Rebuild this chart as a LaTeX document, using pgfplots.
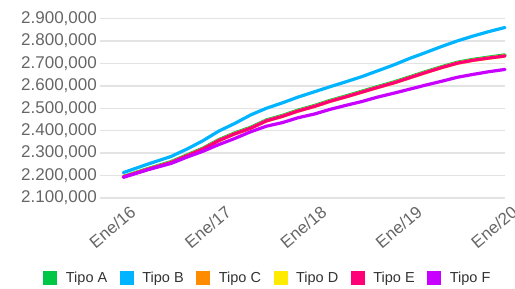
\documentclass[border=0pt]{standalone}
\usepackage{pgfplots}
\pgfplotsset{compat=1.18}
\usepackage{pgfplotstable}
\usepackage{fontspec}
\setmainfont{Liberation Sans}
\definecolor{cA}{HTML}{00C846}
\definecolor{cB}{HTML}{00B4FF}
\definecolor{cC}{HTML}{FF8C00}
\definecolor{cD}{HTML}{FFEB00}
\definecolor{cE}{HTML}{FF0078}
\definecolor{cF}{HTML}{C800FF}
\definecolor{gridc}{HTML}{E3E3E3}
\definecolor{tickc}{HTML}{666666}
\definecolor{legc}{HTML}{333333}
% month (0 = Ene/16), value in thousands
\pgfplotstableread{
m v
0 2196
3 2230
6 2262
8 2292
10 2322
12 2360
14 2390
16 2415
18 2448
20 2468
22 2492
24 2512
26 2535
28 2555
30 2576
32 2597
34 2617
36 2640
38 2663
40 2685
42 2705
44 2718
46 2728
48 2738
}\tipoA
\pgfplotstableread{
m v
0 2213
3 2250
6 2285
8 2318
10 2355
12 2398
14 2432
16 2470
18 2500
20 2524
22 2550
24 2573
26 2596
28 2618
30 2641
32 2667
34 2693
36 2722
38 2748
40 2775
42 2800
44 2822
46 2842
48 2860
}\tipoB
\pgfplotstableread{
m v
0 2194
3 2227
6 2258
8 2288
10 2318
12 2356
14 2386
16 2411
18 2444
20 2464
22 2488
24 2508
26 2531
28 2551
30 2572
32 2593
34 2613
36 2636
38 2659
40 2681
42 2701
44 2714
46 2724
48 2733
}\tipoC
\pgfplotstableread{
m v
0 2194
3 2227
6 2258
8 2288
10 2318
12 2356
14 2386
16 2411
18 2444
20 2464
22 2488
24 2508
26 2531
28 2551
30 2572
32 2593
34 2613
36 2636
38 2659
40 2681
42 2701
44 2714
46 2724
48 2733
}\tipoD
\pgfplotstableread{
m v
0 2194
3 2227
6 2258
8 2288
10 2318
12 2356
14 2386
16 2411
18 2444
20 2464
22 2488
24 2508
26 2531
28 2551
30 2572
32 2593
34 2613
36 2636
38 2659
40 2681
42 2701
44 2714
46 2724
48 2733
}\tipoE
\pgfplotstableread{
m v
0 2192
3 2225
6 2254
8 2282
10 2308
12 2338
14 2365
16 2395
18 2420
20 2436
22 2458
24 2474
26 2495
28 2513
30 2530
32 2550
34 2567
36 2585
38 2603
40 2620
42 2638
44 2651
46 2663
48 2673
}\tipoF
\begin{document}
\begin{tikzpicture}
\useasboundingbox (-100bp,-91bp) rectangle (415bp,198bp);
\begin{axis}[
  at={(0,0)}, anchor=south west,
  scale only axis,
  width=405bp, height=179.5bp,
  xmin=-2.93, xmax=48,
  ymin=2100, ymax=2900,
  axis line style={draw=none},
  major tick length=0pt,
  xtick={0,12,24,36,48},
  xticklabels={Ene/16,Ene/17,Ene/18,Ene/19,Ene/20},
  ytick={2100,2200,2300,2400,2500,2600,2700,2800,2900},
  yticklabels={{2.100,000},{2.200,000},{2.300,000},{2.400,000},{2.500,000},{2.600,000},{2.700,000},{2.800,000},{2.900,000}},
  ymajorgrids,
  grid style={gridc, line width=1.5bp},
  xticklabel style={rotate=40, anchor=north east, inner sep=0pt, yshift=-9bp, font=\fontsize{17bp}{20bp}\selectfont, text=tickc},
  yticklabel style={anchor=east, inner sep=0pt, xshift=-3bp, font=\fontsize{17bp}{20bp}\selectfont, text=tickc},
  clip=false,
  legend columns=6,
  legend style={at={(0.412,-0.446)}, anchor=center, draw=none, fill=none,
    font=\fontsize{14.5bp}{17bp}\selectfont, text=legc,
    /tikz/every even column/.append style={column sep=12.5bp},
    nodes={inner sep=0pt}},
  legend image code/.code={\fill[#1, draw=none] (0bp,-7bp) rectangle (14bp,7bp); \path (21bp,0);},
  every axis plot/.append style={line width=3.2bp, line join=round, line cap=round},
]
\addplot[cA] table[x=m,y=v] {\tipoA};
\addlegendentry{Tipo A}
\addplot[cB] table[x=m,y=v] {\tipoB};
\addlegendentry{Tipo B}
\addplot[cC] table[x=m,y=v] {\tipoC};
\addlegendentry{Tipo C}
\addplot[cD] table[x=m,y=v] {\tipoD};
\addlegendentry{Tipo D}
\addplot[cE] table[x=m,y=v] {\tipoE};
\addlegendentry{Tipo E}
\addplot[cF] table[x=m,y=v] {\tipoF};
\addlegendentry{Tipo F}
\end{axis}
\end{tikzpicture}
\end{document}
